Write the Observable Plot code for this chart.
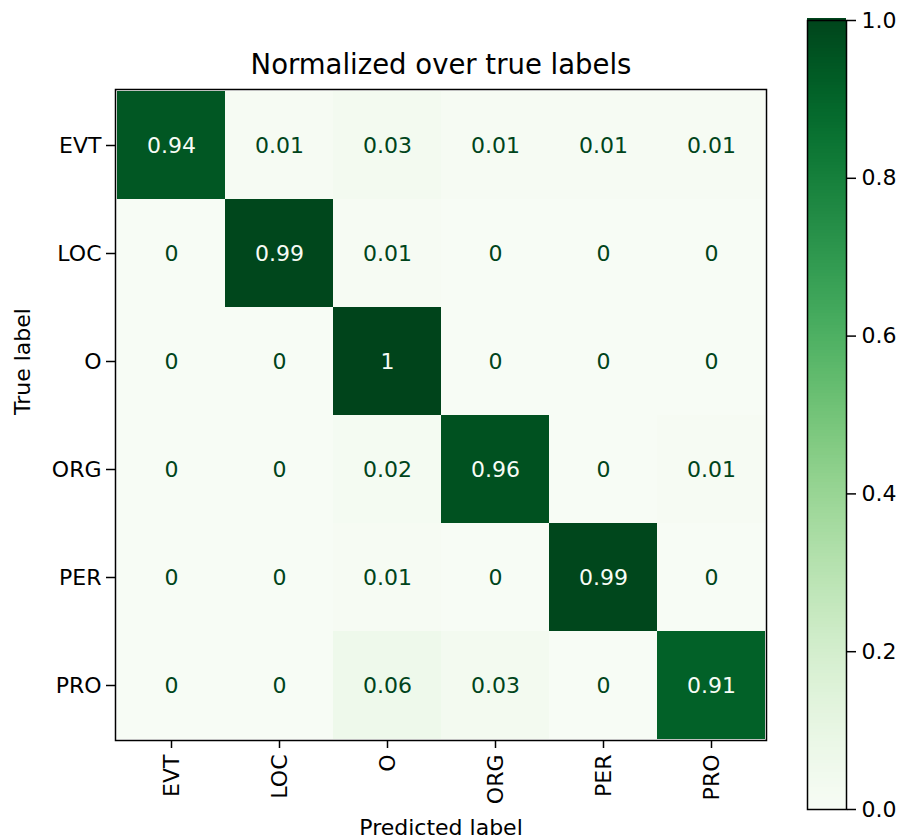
<!DOCTYPE html>
<html>
<head>
<meta charset="utf-8">
<script src="https://cdn.jsdelivr.net/npm/d3@7"></script>
<script src="https://cdn.jsdelivr.net/npm/@observablehq/plot@0.6"></script>
<style>
  html, body { margin: 0; padding: 0; background: #fff; }
  #wrap { position: relative; width: 901px; height: 840px; font-family: "DejaVu Sans", sans-serif; }
  #wrap svg { position: absolute; top: 0; }
</style>
</head>
<body>
<div id="wrap"></div>
<script>
const labels = ["EVT", "LOC", "O", "ORG", "PER", "PRO"];
const rowEVT = [0.94, 0.01, 0.03, 0.01, 0.01, 0.01];
const rowLOC = [0, 0.99, 0.01, 0, 0, 0];
const rowO   = [0, 0, 1, 0, 0, 0];
const rowORG = [0, 0, 0.02, 0.96, 0, 0.01];
const rowPER = [0, 0, 0.01, 0, 0.99, 0];
const rowPRO = [0, 0, 0.06, 0.03, 0, 0.91];
const colorTicks = [0, 0.2, 0.4, 0.6, 0.8, 1.0];
const title = "Normalized over true labels";
const xLabel = "Predicted label";
const yLabel = "True label";

const rows = [rowEVT, rowLOC, rowO, rowORG, rowPER, rowPRO];
const cells = [];
rows.forEach((r, i) => r.forEach((v, j) => cells.push({truth: labels[i], pred: labels[j], value: v})));

const font = "DejaVu Sans, sans-serif";
const dark = "#00441b", light = "#f7fcf5";
const colorOpt = {type: "linear", scheme: "greens", domain: [0, 1]};
const fs = 22;

const main = Plot.plot({
  width: 901, height: 840,
  marginLeft: 115, marginRight: 135, marginTop: 89, marginBottom: 100,
  style: {fontFamily: font, fontSize: fs + "px", color: "#000", background: "transparent"},
  x: {domain: labels, padding: 0, label: null},
  y: {domain: labels, padding: 0, label: null},
  color: colorOpt,
  marks: [
    Plot.cell(cells, {x: "pred", y: "truth", fill: "value", inset: 0}),
    Plot.text(cells, {x: "pred", y: "truth", text: d => d3.format("~g")(d.value), fill: d => d.value > 0.5 ? light : dark, fontSize: fs}),
    Plot.frame({stroke: "#000", strokeWidth: 1.5}),
    Plot.axisX({tickSize: 8, tickRotate: -90, tickPadding: 6, fontSize: fs, label: null, stroke: "#000", strokeWidth: 1.5}),
    Plot.axisY({tickSize: 9, tickPadding: 5, fontSize: fs, label: null, stroke: "#000", strokeWidth: 1.5}),
    Plot.text([title], {frameAnchor: "top", lineAnchor: "middle", dy: -24, fontSize: 27.5, fill: "#000"}),
    Plot.text([xLabel], {frameAnchor: "bottom", lineAnchor: "middle", dy: 87, fontSize: fs, fill: "#000"}),
    Plot.text([yLabel], {frameAnchor: "left", lineAnchor: "middle", dx: -93, rotate: -90, fontSize: fs, fill: "#000"})
  ]
});
main.style.left = "0px";
document.getElementById("wrap").appendChild(main);

const steps = d3.range(0, 1, 1 / 256).map(v => ({y1: v, y2: v + 1 / 256 + 0.002, value: v}));
const bar = Plot.plot({
  width: 101, height: 840,
  marginLeft: 7, marginRight: 55, marginTop: 20, marginBottom: 31,
  style: {fontFamily: font, fontSize: fs + "px", color: "#000", background: "transparent", overflow: "visible"},
  x: {domain: [0, 1], axis: null},
  y: {domain: [0, 1], label: null},
  color: colorOpt,
  marks: [
    Plot.rect(steps, {x1: 0, x2: 1, y1: "y1", y2: "y2", fill: "value", shapeRendering: "crispEdges"}),
    Plot.frame({stroke: "#000", strokeWidth: 1.5}),
    Plot.axisY({anchor: "right", ticks: colorTicks, tickFormat: d3.format(".1f"), tickSize: 9, tickPadding: 6, fontSize: fs, label: null, stroke: "#000", strokeWidth: 1.5})
  ]
});
bar.style.left = "800px";
document.getElementById("wrap").appendChild(bar);
</script>
</body>
</html>
